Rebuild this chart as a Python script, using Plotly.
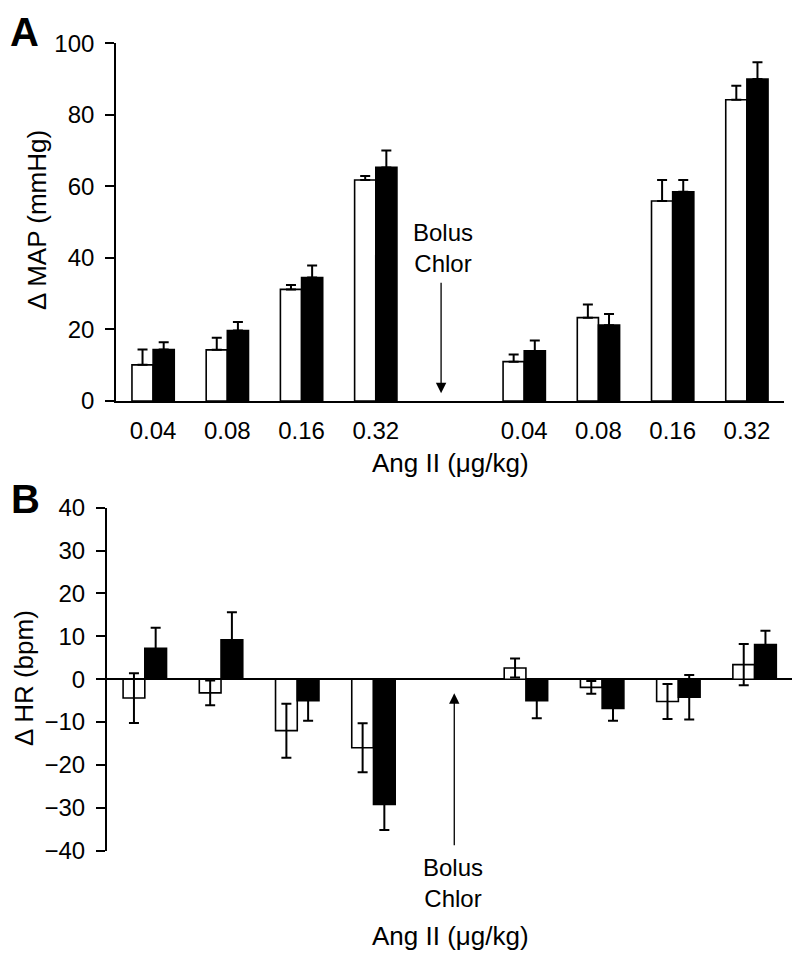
import plotly.graph_objects as go

# ---------------- data ----------------
positions = [0, 1, 2, 3, 5, 6, 7, 8]
dose_labels = ["0.04", "0.08", "0.16", "0.32", "0.04", "0.08", "0.16", "0.32"]

map_white = [10.1, 14.3, 31.2, 61.8, 11.0, 23.3, 55.9, 84.2]
map_white_err = [4.3, 3.4, 1.2, 1.1, 2.0, 3.7, 5.9, 3.9]
map_black = [14.4, 19.7, 34.5, 65.3, 14.0, 21.2, 58.5, 90.0]
map_black_err = [2.0, 2.4, 3.4, 4.7, 2.9, 3.1, 3.3, 4.7]

hr_white = [-4.4, -3.2, -12.0, -16.0, 2.6, -1.9, -5.2, 3.4]
hr_white_err = [5.8, 2.9, 6.3, 5.7, 2.2, 1.5, 4.1, 4.8]
hr_black = [7.2, 9.2, -5.0, -29.2, -5.0, -6.8, -4.2, 8.1]
hr_black_err = [4.8, 6.4, 4.7, 6.0, 4.1, 2.9, 5.2, 3.2]

FONT = "Liberation Sans, Arial, Helvetica, sans-serif"
# the page body has an 8px margin, so the figure is drawn at (8, 8)
OFF = 8
W, H = 800 - OFF, 957 - OFF

def fx(px):
    return (px - OFF) / W

def fy(py):
    return 1 - (py - OFF) / H

fig = go.Figure()

def bar(x, y, err, color, xa, ya, one_sided):
    ey = dict(type="data", array=err, color="black", thickness=2, width=5, visible=True)
    if one_sided:
        ey["symmetric"] = False
        ey["arrayminus"] = [0] * len(err)
    return go.Bar(x=x, y=y, marker=dict(color=color, line=dict(color="black", width=1.6)),
                  error_y=ey, xaxis=xa, yaxis=ya, showlegend=False)

fig.add_trace(bar(positions, map_white, map_white_err, "white", "x", "y", True))
fig.add_trace(bar(positions, map_black, map_black_err, "black", "x", "y", True))
fig.add_trace(bar(positions, hr_white, hr_white_err, "white", "x2", "y2", False))
fig.add_trace(bar(positions, hr_black, hr_black_err, "black", "x2", "y2", False))

tickfont = dict(family=FONT, size=24, color="black")

fig.update_layout(
    width=W, height=H,
    margin=dict(l=0, r=0, t=0, b=0, autoexpand=False),
    paper_bgcolor="white", plot_bgcolor="white",
    barmode="group", bargap=0.43, bargroupgap=0,
    font=dict(family=FONT, size=24, color="black"),
    xaxis=dict(domain=[fx(116), fx(784)], range=[-0.5, 8.5], tickmode="array",
               tickvals=positions, ticktext=dose_labels, ticks="", showline=True,
               linecolor="black", linewidth=1.6, showgrid=False, zeroline=False,
               tickfont=tickfont, ticklabelstandoff=7, anchor="y", automargin=False),
    yaxis=dict(domain=[fy(401), fy(43.3)], range=[0, 100], tickvals=[0, 20, 40, 60, 80, 100],
               ticks="outside", ticklen=9, tickwidth=1.6, tickcolor="black", showline=True,
               linecolor="black", linewidth=1.6, showgrid=False, zeroline=False,
               tickfont=tickfont, ticklabelstandoff=6, anchor="x", automargin=False),
    xaxis2=dict(domain=[fx(106.7), fx(792.7)], range=[-0.5, 8.5], showticklabels=False,
                ticks="", showline=False, showgrid=False, zeroline=False, anchor="y2",
                automargin=False),
    yaxis2=dict(domain=[fy(850.7), fy(507.7)], range=[-40, 40],
                tickvals=[-40, -30, -20, -10, 0, 10, 20, 30, 40],
                ticks="outside", ticklen=9, tickwidth=1.6, tickcolor="black", showline=True,
                linecolor="black", linewidth=1.6, showgrid=False, zeroline=True,
                zerolinecolor="black", zerolinewidth=1.6,
                tickfont=tickfont, ticklabelstandoff=6, anchor="x2", automargin=False),
)

def ptext(text, px, py, size=24, bold=False, angle=0):
    fig.add_annotation(text=f"<b>{text}</b>" if bold else text, x=fx(px), y=fy(py),
                       xref="paper", yref="paper", showarrow=False, textangle=angle,
                       xanchor="center", yanchor="middle",
                       font=dict(family=FONT, size=size, color="black"))

# panel letters
ptext("A", 24, 32, size=40, bold=True)
ptext("B", 25, 499, size=40, bold=True)
# axis titles
ptext("\u0394 MAP (mmHg)", 37, 220, size=26, angle=-90)
ptext("\u0394 HR (bpm)", 24, 678, size=26, angle=-90)
ptext("Ang II (\u03bcg/kg)", 450, 463, size=26)
ptext("Ang II (\u03bcg/kg)", 450, 936, size=26)
# Bolus Chlor labels
ptext("Bolus<br>Chlor", 442.5, 248, size=24)
ptext("Bolus<br>Chlor", 453, 883, size=24)

# arrows
fig.add_annotation(x=3.88, y=2.2, ax=3.88, ay=33.5, xref="x", yref="y", axref="x", ayref="y",
                   text="", showarrow=True, arrowhead=2, arrowsize=1.6, arrowwidth=1.3,
                   arrowcolor="black")
fig.add_annotation(x=4.06, y=-3.3, ax=4.06, ay=-39.1, xref="x2", yref="y2", axref="x2", ayref="y2",
                   text="", showarrow=True, arrowhead=2, arrowsize=1.6, arrowwidth=1.3,
                   arrowcolor="black")

fig.write_html("out.html")
